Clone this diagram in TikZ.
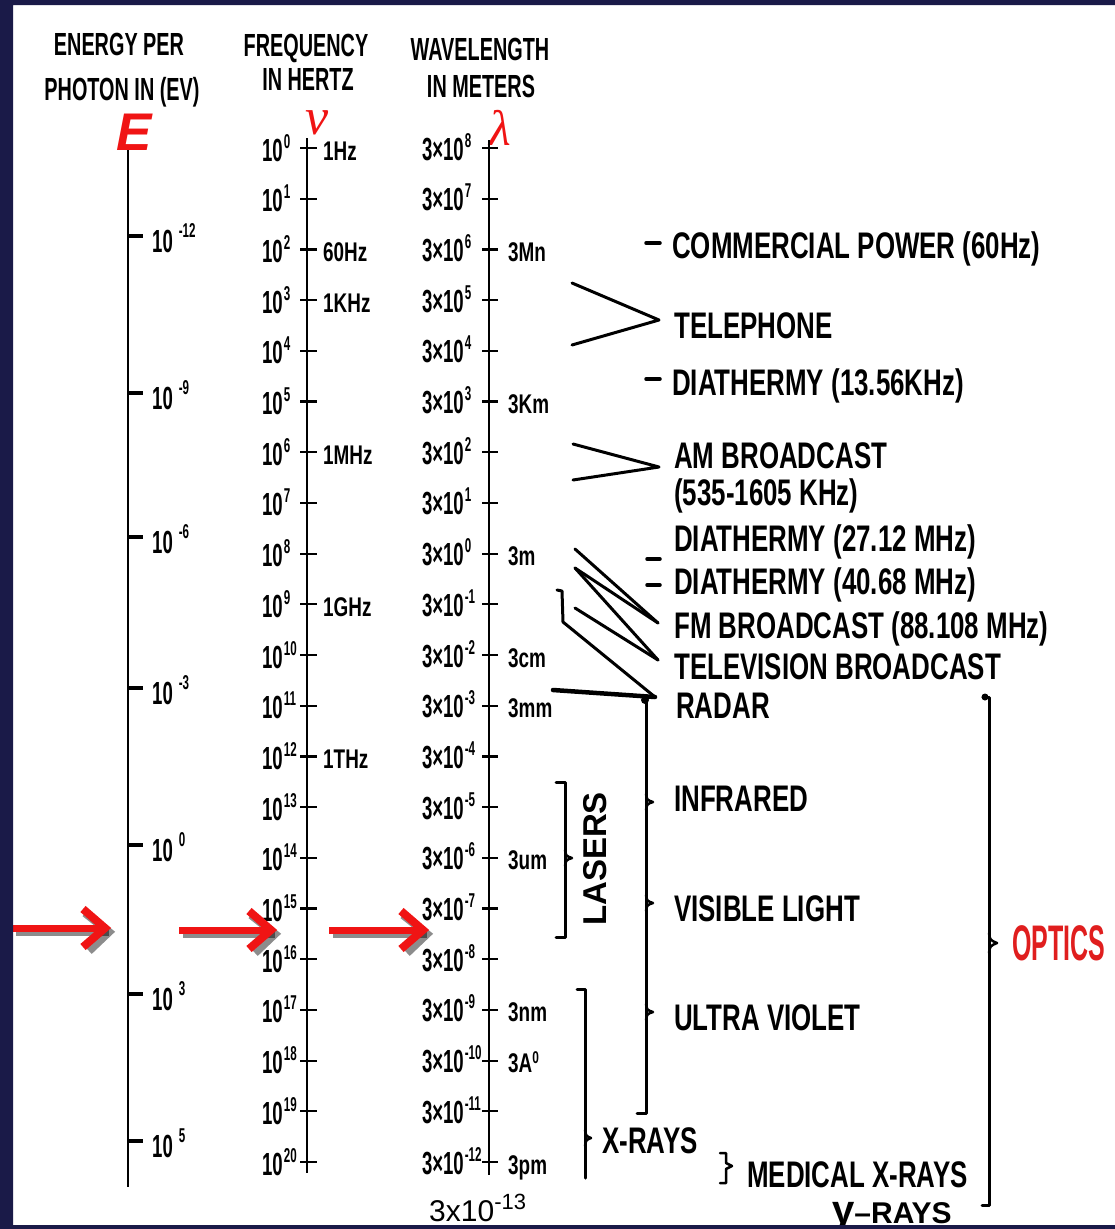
\documentclass[tikz,border=0pt]{standalone}
\usepackage{fontspec}
\setmainfont{Liberation Sans}
\newfontfamily\scanfont{Liberation Sans}[FakeStretch=0.7]
\newfontfamily\headfont{Liberation Sans}[FakeStretch=0.62]
\newfontfamily\tickfont{Liberation Sans}[FakeStretch=0.58]
\newfontfamily\optfont{Liberation Sans}[FakeStretch=0.5]
\newfontfamily\greekserif{Liberation Serif}
\definecolor{arrred}{HTML}{F01414}
\definecolor{optred}{HTML}{E01E1E}
\definecolor{navytop}{HTML}{1A1A48}
\definecolor{navymid}{HTML}{36369E}
\newcommand{\pw}[2]{#1\rlap{\kern1pt\raisebox{13pt}{\fontsize{20}{20}\selectfont #2}}}
\begin{document}
\begin{tikzpicture}[x=1pt,y=-1pt,
  axis/.style={line width=2.5pt},
  tickln/.style={line width=2.2pt},
  etick/.style={line width=4pt},
  brk/.style={line width=3pt, line join=round, line cap=round},
  lab/.style={inner sep=0pt, anchor=base west, font=\scanfont\bfseries\fontsize{37}{40}\selectfont},
  head/.style={inner sep=0pt, anchor=base, font=\headfont\bfseries\fontsize{32}{34}\selectfont},
  tk/.style={inner sep=0pt, font=\tickfont\bfseries\fontsize{32}{34}\selectfont},
  unit/.style={inner sep=0pt, anchor=base west, font=\scanfont\bfseries\fontsize{27}{29}\selectfont},
  redarrow/.style={arrred, line width=7pt},
  redhead/.style={arrred, line width=8pt, line join=miter},
  shadowarrow/.style={black, opacity=0.45, line width=7pt},
  shadowhead/.style={black, opacity=0.45, line width=8pt, line join=miter}
]
\useasboundingbox (0,0) rectangle (1115,1229);
\fill[white] (0,0) rectangle (1115,1229);

% ---------- headings ----------
\node[head] (h1a) at (119,55) {ENERGY PER};
\node[head] (h1b) at (122,100) {PHOTON IN (EV)};
\node[head] (h2a) at (306,56) {FREQUENCY};
\node[head] (h2b) at (308,90) {IN HERTZ};
\node[head] (h3a) at (480,60) {WAVELENGTH};
\node[head] (h3b) at (481,97) {IN METERS};

% ---------- red symbols ----------
\node[inner sep=0pt, anchor=base west, text=arrred, font=\fontsize{53}{55}\selectfont\bfseries\itshape] (symE) at (116,150) {E};
\node[inner sep=0pt, anchor=base west, text=arrred, text height=24pt, text depth=0pt, font=\greekserif\itshape\fontsize{52}{54}\selectfont] (symnu) at (305,134) {ν};
\node[inner sep=0pt, anchor=base west, text=arrred, text height=34pt, text depth=0pt, font=\greekserif\itshape\fontsize{50}{52}\selectfont] (symla) at (489,145) {λ};

% ---------- energy axis ----------
\draw[axis] (128,150) -- (128,1187);
\foreach \yy/\e [count=\i] in {236/-12, 393/-9, 537/-6, 688/-3, 845/0, 994/3, 1141/5} {
  \draw[etick] (128,\yy) -- (143,\yy);
  \node[tk, anchor=base west] (el\i) at (152,\yy+16) {10\kern6pt\raisebox{15pt}{\fontsize{20}{20}\selectfont\e}};
}

% ---------- frequency and wavelength axes ----------
\draw[axis] (307,138) -- (307,1173);
\draw[axis] (489,140) -- (489,1175);
\foreach \k in {0,...,20} {
  \pgfmathsetmacro\yy{148+50.7*\k}
  \pgfmathtruncatemacro\e{8-\k}
  \draw[tickln] (300,\yy) -- (317,\yy);
  \draw[tickln] (482,\yy) -- (498,\yy);
  \node[tk, anchor=base east] (fl\k) at (283,\yy+13) {\pw{10}{\k}};
  \node[tk, anchor=base east] (wl\k) at (464,\yy+12) {\pw{3×10}{\e}};
}
\foreach \k/\t in {0/1Hz, 2/60Hz, 3/1KHz, 6/1MHz, 9/1GHz, 12/1THz} {
  \node[unit] (fu\k) at (323,148+50.7*\k+12) {\t};
}
\foreach \k/\t in {2/3Mn, 5/3Km, 8/3m, 10/3cm, 11/3mm, 14/3um, 17/3nm, 18/{3A\raisebox{9pt}{\fontsize{17}{17}\selectfont 0}}, 20/3pm} {
  \node[unit] (wu\k) at (508,148+50.7*\k+12) {\t};
}

% ---------- right-side labels ----------
\node[lab] (cp) at (672,258) {COMMERCIAL POWER (60Hz)};
\node[lab] (tel) at (674,338) {TELEPHONE};
\node[lab] (d1) at (672,395) {DIATHERMY (13.56KHz)};
\node[lab] (am1) at (674,468) {AM BROADCAST};
\node[lab] (am2) at (674,505) {(535-1605 KHz)};
\node[lab] (d2) at (674,551) {DIATHERMY (27.12 MHz)};
\node[lab] (d3) at (674,594) {DIATHERMY (40.68 MHz)};
\node[lab] (fm) at (674,638) {FM BROADCAST (88.108 MHz)};
\node[lab] (tv) at (674,679) {TELEVISION BROADCAST};
\node[lab] (rad) at (676,718) {RADAR};
\node[lab] (ir) at (674,811) {INFRARED};
\node[lab] (vis) at (674,921) {VISIBLE LIGHT};
\node[lab] (uv) at (674,1030) {ULTRA VIOLET};
\node[lab] (xr) at (602,1153) {X-RAYS};
\node[lab] (mxr) at (747,1187) {MEDICAL X-RAYS};
\node[inner sep=0pt, rotate=90, font=\bfseries\fontsize{33}{35}\selectfont] (las) at (595,859) {LASERS};
\node[inner sep=0pt, anchor=west, text=optred, font=\optfont\bfseries\fontsize{50}{52}\selectfont] (opt) at (1012,943) {OPTICS};
\node[inner sep=0pt, anchor=base west, text height=20pt, text depth=0pt] (gam) at (832,1223) {\bfseries{\fontsize{40}{40}\selectfont γ}{\fontsize{30}{30}\selectfont –RAYS}};
\node[inner sep=0pt, anchor=base west, font=\fontsize{30}{32}\selectfont] (lam13) at (429,1221) {3x10\raisebox{12pt}{\fontsize{22}{22}\selectfont -13}};

% ---------- brackets and connectors ----------
\draw[brk, line width=3.5pt] (646,243) -- (660,243);
\draw[brk, line width=3.5pt] (646,379) -- (660,379);
\draw[brk, line width=3.5pt] (647,559) -- (660,559);
\draw[brk, line width=3.5pt] (647,585) -- (660,585);
\coordinate (telA) at (572,283); \coordinate (telT) at (659,320); \coordinate (telB) at (572,345);
\draw[brk] (telA) -- (telT) -- (telB);
\coordinate (amA) at (573,444); \coordinate (amT) at (659,467); \coordinate (amB) at (573,480);
\draw[brk] (amA) -- (amT) -- (amB);
\coordinate (c1) at (575,549); \coordinate (c2) at (575,568); \coordinate (c3) at (575,608);
\coordinate (fmT) at (658,623); \coordinate (tvT) at (658,660); \coordinate (radT) at (655,697);
\draw[brk] (c1) -- (fmT);
\draw[brk] (c2) -- (fmT);
\draw[brk] (c2) -- (tvT);
\draw[brk] (c3) -- (tvT);
\draw[brk] (557,590) -- (562,591) -- (563,622) -- (radT);
\draw[brk, line width=4.5pt] (553,690) -- (radT);
\fill (645,700) circle (4);
% optical sub-bracket
\draw[brk] (646,698) -- (646,1113) -- (637,1113);
\foreach \yy in {802, 903, 1012} {
  \draw[brk, line width=2.5pt] (646,\yy-8) .. controls (647,\yy-2) .. (653,\yy) .. controls (647,\yy+2) .. (646,\yy+8);
}
% lasers bracket
\draw[brk] (556,782) -- (565,782) -- (565,937) -- (556,937);
\draw[brk, line width=2.5pt] (565,850) .. controls (566,856) .. (572,858) .. controls (566,860) .. (565,866);
% x-rays bracket
\draw[brk] (577,989) -- (585,989) -- (585,1178);
\draw[brk, line width=2.5pt] (585,1130) .. controls (586,1136) .. (591,1138) .. controls (586,1140) .. (585,1146);
% medical x-rays brace
\draw[brk, line width=2.5pt] (720,1153) -- (726,1153) -- (726,1163) -- (732,1166) -- (726,1169) -- (726,1183) -- (720,1183);
% optics bracket
\draw[brk] (983,697) -- (989,697) -- (989,1205) -- (982,1205);
\draw[brk, line width=2.5pt] (989,933) .. controls (990,940) .. (997,943) .. controls (990,946) .. (989,953);
\fill (985,697) circle (3.5);

% ---------- red arrows with shadows ----------
\foreach \xa/\xt/\yy [count=\i] in {12/111/928, 179/277/930, 329/429/930} {
  \coordinate (at\i) at (\xa,\yy);
  \coordinate (ah\i) at (\xt-6,\yy);
  \draw[shadowarrow] ([shift={(4,4)}]at\i) -- ([shift={(4,4)}]ah\i);
  \draw[shadowhead] ([shift={(-20,-15)}]ah\i) -- ([shift={(4,4)}]ah\i) -- ([shift={(-16,23)}]ah\i);
  \draw[redarrow] (at\i) -- (ah\i);
  \draw[redhead] ([shift={(-22,-19)}]ah\i) -- (ah\i) -- ([shift={(-22,19)}]ah\i);
}

% ---------- slide frame ----------
\shade[top color=navytop, middle color=navymid, bottom color=navytop, even odd rule]
  (0,0) rectangle (1115,1229) (13,5) rectangle (1115,1225);
\end{tikzpicture}
\end{document}
